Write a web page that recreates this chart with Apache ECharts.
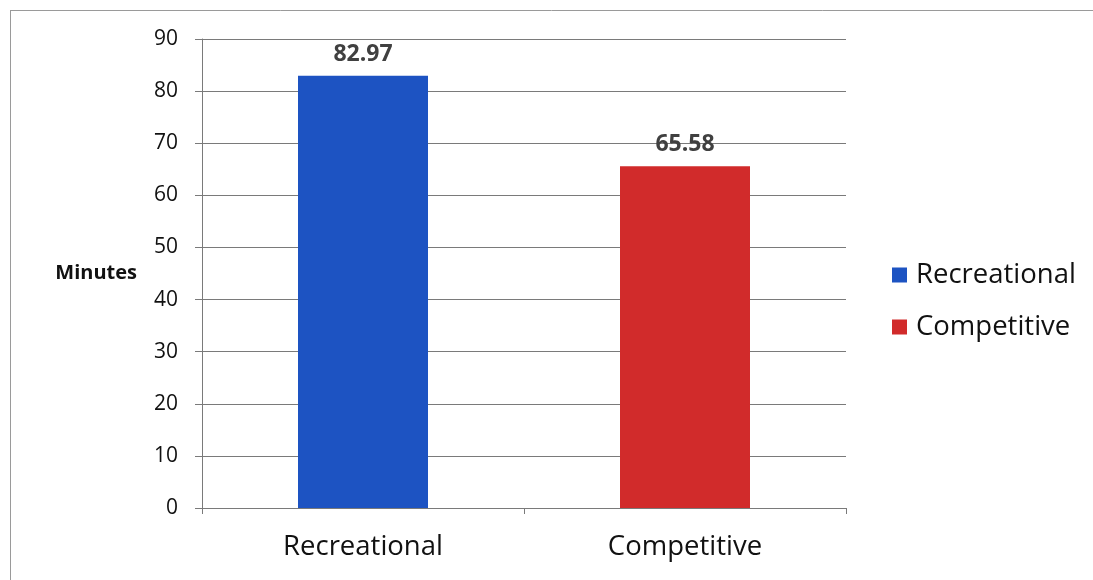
<!DOCTYPE html>
<html>
<head>
<meta charset="utf-8">
<script src="https://cdn.jsdelivr.net/npm/echarts@6/dist/echarts.min.js"></script>
<style>
  html, body { margin: 0; padding: 0; background: #ffffff; }
  #chart { width: 1093px; height: 580px; }
</style>
</head>
<body>
<div id="chart"></div>
<script>
// Average session length by player type
const categories = ['Recreational', 'Competitive'];
const recreationalValues = [82.97, '-'];
const competitiveValues = ['-', 65.58];
const yTicks = { min: 0, max: 90, interval: 10 };
const axisTitle = 'Minutes';

const FONT = '"Open Sans", "Noto Sans", sans-serif';

const chart = echarts.init(document.getElementById('chart'), null, { renderer: 'canvas' });

const labelStyle = {
  show: true,
  position: 'top',
  distance: 10,
  fontFamily: FONT,
  fontWeight: 'bold',
  fontSize: 23,
  color: '#404040',
  formatter: p => p.value.toFixed(2)
};

chart.setOption({
  animation: false,
  backgroundColor: '#ffffff',
  graphic: [
    { type: 'line', shape: { x1: 10, y1: 10.5, x2: 1093, y2: 10.5 }, style: { stroke: '#9a9a9a', lineWidth: 1 } },
    { type: 'line', shape: { x1: 10.5, y1: 10, x2: 10.5, y2: 580 }, style: { stroke: '#9a9a9a', lineWidth: 1 } }
  ],
  grid: { left: 202, right: 247, top: 39, bottom: 72 },
  legend: {
    orient: 'vertical',
    left: 887,
    top: 256,
    itemWidth: 15,
    itemHeight: 15,
    itemGap: 24,
    icon: 'rect',
    textStyle: { fontFamily: FONT, fontSize: 27.5, color: '#111111', padding: [0, 0, 0, 4] },
    data: ['Recreational', 'Competitive']
  },
  xAxis: {
    type: 'category',
    data: categories,
    axisLine: { lineStyle: { color: '#7a7a7a', width: 1 } },
    axisTick: { show: true, length: 6, lineStyle: { color: '#7a7a7a' } },
    axisLabel: { fontFamily: FONT, fontSize: 27.5, color: '#111111', margin: 25 }
  },
  yAxis: {
    type: 'value',
    min: yTicks.min,
    max: yTicks.max,
    interval: yTicks.interval,
    name: axisTitle,
    nameLocation: 'middle',
    nameRotate: 0,
    nameGap: 65,
    nameTextStyle: { fontFamily: FONT, fontWeight: 'bold', fontSize: 20, color: '#111111' },
    axisLine: { show: true, lineStyle: { color: '#7a7a7a', width: 1 } },
    axisTick: { show: true, length: 7, lineStyle: { color: '#7a7a7a' } },
    axisLabel: { fontFamily: FONT, fontSize: 21, color: '#111111', margin: 24 },
    splitLine: { show: true, lineStyle: { color: '#7a7a7a', width: 1 } }
  },
  series: [
    {
      name: 'Recreational',
      type: 'bar',
      stack: 'all',
      barWidth: 130,
      data: recreationalValues,
      itemStyle: { color: '#1d53c2' },
      label: labelStyle
    },
    {
      name: 'Competitive',
      type: 'bar',
      stack: 'all',
      barWidth: 130,
      data: competitiveValues,
      itemStyle: { color: '#d12b2b' },
      label: labelStyle
    }
  ]
});
</script>
</body>
</html>
